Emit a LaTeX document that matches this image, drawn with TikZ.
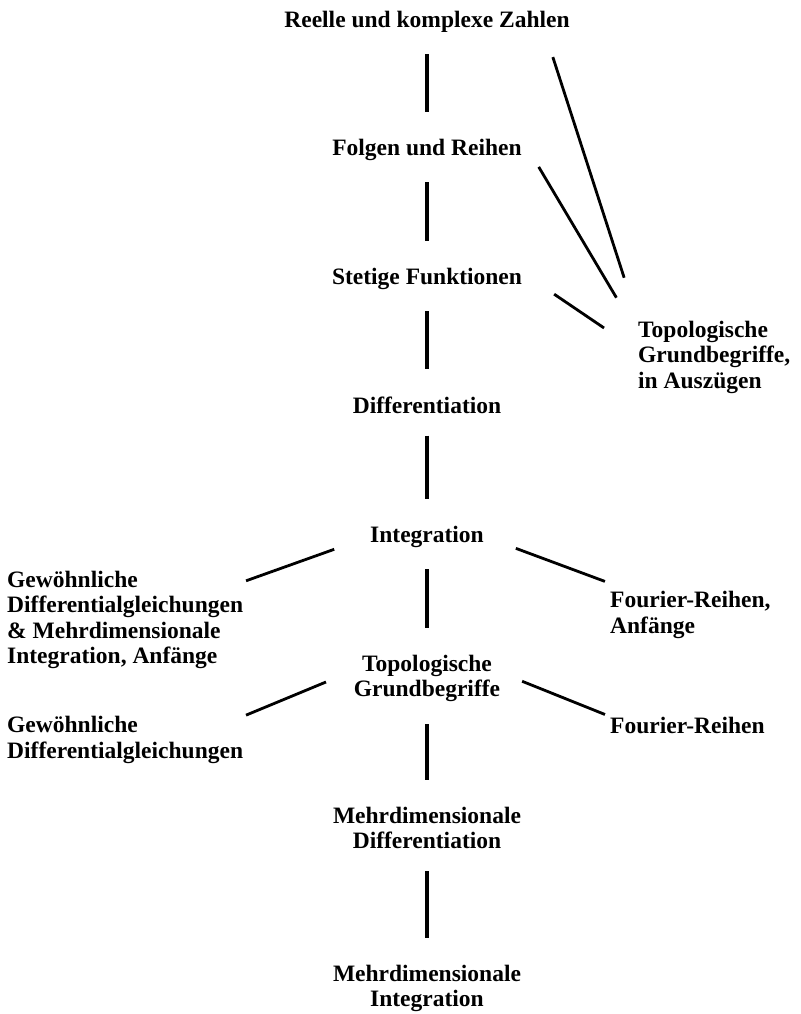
\documentclass[tikz,border=0pt]{standalone}
\usepackage{fontspec}
\setmainfont{Liberation Serif}
\usetikzlibrary{positioning}

\begin{document}
\begin{tikzpicture}[
  x=1pt, y=1pt,
  font=\fontsize{23.5}{25.5}\selectfont\bfseries,
  node distance=128pt, on grid,
  topic/.style={inner sep=0pt, align=center},
  side/.style={inner sep=0pt, align=left, anchor=west},
  stem/.style={line width=3.6pt, shorten <=22pt, shorten >=27pt},
  link/.style={line width=2.8pt}
]
\useasboundingbox (0,0) rectangle (800,-1014);
% main column
\node[topic] (reelle) at (427,-21.5) {Reelle und komplexe Zahlen};
\node[topic, below=of reelle] (folgen) {Folgen und Reihen};
\node[topic, below=129pt of folgen] (stetig) {Stetige Funktionen};
\node[topic, below=126.5pt of stetig] (diff) {Differentiation};
\node[topic, below=131.5pt of diff] (integ) {Integration};
\node[topic, below=142pt of integ] (topo) {Topologische\\Grundbegriffe};
\node[topic, below=149.5pt of topo] (mdiff) {Mehrdimensionale\\Differentiation};
\node[topic, below=160.5pt of mdiff] (mint) {Mehrdimensionale\\Integration};
% side branches
\node[side] (topoaus) at (638,-357) {Topologische\\Grundbegriffe,\\in Auszügen};
\node[side] (gdgl) at (7,-620) {Gewöhnliche\\Differentialgleichungen\\\& Mehrdimensionale\\Integration, Anfänge};
\node[side] (gdglfull) at (7,-740) {Gewöhnliche\\Differentialgleichungen};
\node[side] (fourier) at (610,-615) {Fourier-Reihen,\\Anfänge};
\node[side] (fourierfull) at (610,-725) {Fourier-Reihen};

\draw[stem] (reelle) -- (folgen);
\draw[stem] (folgen) -- (stetig);
\draw[stem] (stetig) -- (diff);
\draw[stem] (diff) -- (integ);
\draw[stem] (integ) -- (topo);
\draw[stem] (topo) -- (mdiff);
\draw[stem] (mdiff) -- (mint);

\draw[link, shorten <=26pt, shorten >=45pt] ([xshift=-25pt]reelle.south east) -- (topoaus.north west);
\draw[link, shorten <=7.5pt, shorten >=26.6pt] ([xshift=13pt]folgen.south east) -- ([xshift=-8pt]topoaus.north west);
\draw[link, shorten <=38.6pt, shorten >=41pt] ([yshift=6pt]stetig.east) -- ([yshift=6pt]topoaus.west);
\draw[link, shorten <=38pt, shorten >=3pt] (integ.west) -- ([yshift=-11pt]gdgl.north east);
\draw[link, shorten <=30pt, shorten >=3pt] ([yshift=8pt]topo.west) -- (gdglfull.north east);
\draw[link, shorten <=34pt, shorten >=5.4pt] (integ.east) -- ([yshift=8pt]fourier.north west);
\draw[link, shorten <=23.5pt, shorten >=5.4pt] ([yshift=6pt]topo.east) -- (fourierfull.north west);
\end{tikzpicture}
\end{document}
